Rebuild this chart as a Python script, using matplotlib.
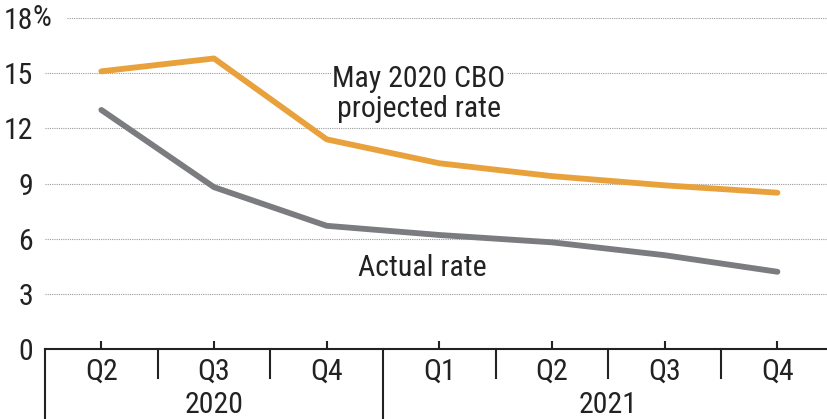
import numpy as np
import matplotlib
matplotlib.use("Agg")
import matplotlib.pyplot as plt
import matplotlib.transforms as mtransforms

plt.rcParams['font.family'] = ['Roboto Condensed', 'Liberation Sans Narrow',
                               'Roboto', 'DejaVu Sans']

quarters = ["Q2", "Q3", "Q4", "Q1", "Q2", "Q3", "Q4"]
years = ["2020", "2021"]
projected = [15.1, 15.8, 11.4, 10.1, 9.4, 8.9, 8.5]
actual = [13.0, 8.8, 6.7, 6.2, 5.8, 5.1, 4.2]
yticks = [0, 3, 6, 9, 12, 15, 18]

orange = "#E9A23B"
gray = "#7B7C80"
ink = "#222222"
fs = 21.5

fig = plt.figure(figsize=(8.27, 4.19), dpi=100)
W, H = 827, 419
ax = fig.add_axes([45 / W, (H - 349) / H, (827 - 45) / W, (349 - 18) / H])

x = np.arange(len(quarters))

# dotted gridlines
for v in yticks[1:]:
    xmin = 0.028 if v == 18 else 0
    ax.axhline(v, xmin=xmin, color="#9a9a9a", lw=0.8, ls=(0, (1, 1)), zorder=1)

ax.plot(x, projected, color=orange, lw=4.2, solid_capstyle="round",
        solid_joinstyle="round", zorder=3)
ax.plot(x, actual, color=gray, lw=4.2, solid_capstyle="round",
        solid_joinstyle="round", zorder=3)

ax.set_xlim(-0.5, 6.44)
ax.set_ylim(0, 18)

for s in ["top", "right", "left"]:
    ax.spines[s].set_visible(False)
ax.spines["bottom"].set_linewidth(1.5)
ax.spines["bottom"].set_color(ink)

ax.set_xticks(x)
ax.set_xticklabels(quarters, fontsize=fs, color=ink)
ax.tick_params(axis="x", direction="in", length=6, width=1.5, pad=6, color=ink)

ax.set_yticks(yticks)
ax.set_yticklabels([str(v) for v in yticks], fontsize=fs, color=ink)
ax.tick_params(axis="y", length=0, pad=8.5)
fig.text(33 / W, (H - 18) / H, "%", fontsize=fs, color=ink,
         ha="left", va="center")

# separators below the axis
trans = mtransforms.blended_transform_factory(ax.transData, ax.transAxes)
for b in [0.5, 1.5, 3.5, 4.5, 5.5]:
    ax.plot([b, b], [0, -0.088], transform=trans, color=ink, lw=1.5,
            clip_on=False)
for b in [-0.5, 2.5]:
    ax.plot([b, b], [0, -0.22], transform=trans, color=ink, lw=1.5,
            clip_on=False)

# year labels
ax.text(1, -0.168, years[0], transform=trans, fontsize=fs, ha="center",
        va="center", color=ink)
ax.text(4.5, -0.168, years[1], transform=trans, fontsize=fs, ha="center",
        va="center", color=ink)

# series annotations
ax.text(2.82, 13.87, "May 2020 CBO\nprojected rate", fontsize=fs, ha="center",
        va="center", color=ink, linespacing=1.1, zorder=4,
        bbox=dict(facecolor="white", edgecolor="none", pad=1))
ax.text(2.85, 4.4, "Actual rate", fontsize=fs, ha="center", va="center",
        color=ink, zorder=4)

fig.savefig("out.png", dpi=100)
